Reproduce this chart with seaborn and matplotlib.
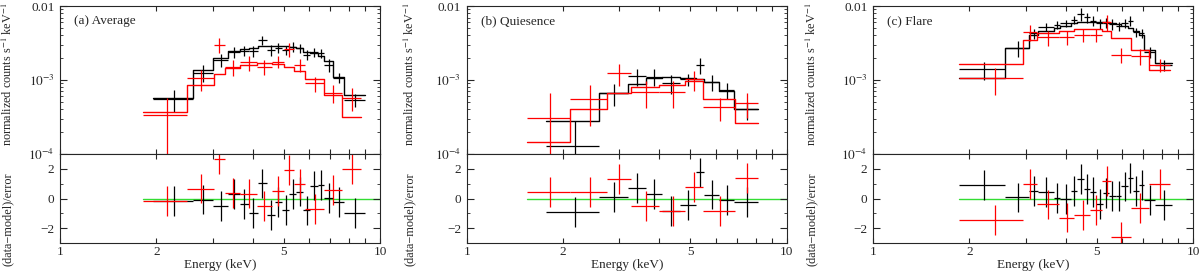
import numpy as np
import pandas as pd
import seaborn as sns
import matplotlib.pyplot as plt
from matplotlib.ticker import FixedLocator, FixedFormatter, NullFormatter, MultipleLocator

# --- DATA ---
# bin edges in keV, data, 1-sigma error, model, residual (data-model)/error

# (a) Average
a_blk_edges = [1.95, 2.60, 3.00, 3.36, 3.64, 3.89, 4.15, 4.42, 4.68, 4.95, 5.21, 5.46, 5.75, 6.06, 6.38, 6.70, 7.15, 7.72, 9.00]
a_blk_flux = [5.5e-4, 1.26e-3, 1.86e-3, 2.41e-3, 2.49e-3, 2.47e-3, 3.47e-3, 2.54e-3, 2.73e-3, 2.54e-3, 2.82e-3, 2.68e-3, 2.18e-3, 2.37e-3, 2.29e-3, 1.60e-3, 1.08e-3, 5.4e-4]
a_blk_err = [1.75e-4, 3.2e-4, 3.6e-4, 4.2e-4, 4.0e-4, 4.0e-4, 4.5e-4, 4.0e-4, 4.0e-4, 3.8e-4, 4.2e-4, 3.8e-4, 3.3e-4, 3.5e-4, 3.3e-4, 3.3e-4, 1.7e-4, 1.05e-4]
a_blk_model = [5.8e-4, 1.36e-3, 1.96e-3, 2.49e-3, 2.62e-3, 2.74e-3, 2.85e-3, 2.91e-3, 2.91e-3, 2.89e-3, 2.82e-3, 2.68e-3, 2.41e-3, 2.30e-3, 2.14e-3, 1.78e-3, 1.11e-3, 6.3e-4]
a_blk_resid = [-0.18, -0.07, -0.51, 0.31, -0.36, -0.96, 1.02, -1.09, -0.24, -0.76, 0.31, 0.47, -0.80, 0.87, 0.93, 0.02, -0.24, -0.96]

a_red_edges = [1.82, 2.50, 3.02, 3.27, 3.66, 4.12, 4.58, 5.02, 5.40, 5.83, 6.66, 7.63, 8.75]
a_red_flux = [3.4e-4, 1.05e-3, 2.97e-3, 1.51e-3, 1.73e-3, 1.51e-3, 1.77e-3, 2.62e-3, 1.60e-3, 9.0e-4, 6.75e-4, 5.8e-4]
a_red_err = [2.4e-4, 3.3e-4, 6.8e-4, 3.7e-4, 3.9e-4, 3.5e-4, 3.3e-4, 5.5e-4, 3.3e-4, 2.1e-4, 1.8e-4, 2.0e-4]
a_red_model = [3.65e-4, 8.55e-4, 1.19e-3, 1.44e-3, 1.60e-3, 1.68e-3, 1.63e-3, 1.51e-3, 1.32e-3, 1.03e-3, 6.3e-4, 3.12e-4]
a_red_resid = [-0.18, 0.67, 2.64, 0.38, 0.33, -0.51, 0.49, 1.93, 0.98, -0.69, 0.58, 2.00]

# (b) Quiesence
b_blk_edges = [1.77, 2.59, 3.19, 3.63, 4.08, 4.64, 5.20, 5.50, 6.14, 6.83, 8.14]
b_blk_flux = [1.3e-4, 6.6e-4, 1.13e-3, 1.11e-3, 9.0e-4, 1.02e-3, 1.60e-3, 9.3e-4, 7.3e-4, 4.0e-4]
b_blk_err = [1.5e-4, 2.15e-4, 2.9e-4, 2.9e-4, 2.6e-4, 2.0e-4, 4.0e-4, 2.3e-4, 1.8e-4, 1.1e-4]
b_blk_model = [2.79e-4, 6.75e-4, 8.75e-4, 1.05e-3, 1.11e-3, 1.08e-3, 1.02e-3, 9.5e-4, 7.2e-4, 4.0e-4]
b_blk_resid = [-0.91, 0.09, 0.71, 0.31, -0.84, -0.44, 1.76, 0.27, -0.11, -0.24]

b_red_edges = [1.54, 2.10, 2.74, 3.25, 4.00, 4.79, 5.47, 6.87, 8.14]
b_red_flux = [3.1e-4, 5.5e-4, 1.23e-3, 6.95e-4, 6.95e-4, 1.02e-3, 4.27e-4, 4.84e-4]
b_red_err = [3.6e-4, 3.1e-4, 4.1e-4, 2.8e-4, 2.8e-4, 3.2e-4, 1.45e-4, 1.8e-4]
b_red_model = [1.47e-4, 4.0e-4, 6.7e-4, 8.0e-4, 8.6e-4, 9.6e-4, 5.5e-4, 2.6e-4]
b_red_resid = [0.42, 0.42, 1.31, -0.51, -0.84, 0.76, -0.84, 1.38]

# (c) Flare
c_blk_edges = [1.86, 2.58, 3.08, 3.28, 3.68, 3.84, 4.16, 4.35, 4.57, 4.78, 4.98, 5.24, 5.47, 5.73, 5.97, 6.27, 6.47, 6.78, 7.05, 7.62, 8.60]
c_blk_flux = [1.39e-3, 2.68e-3, 4.28e-3, 5.25e-3, 5.53e-3, 5.83e-3, 6.47e-3, 7.8e-3, 7.03e-3, 6.33e-3, 5.83e-3, 5.95e-3, 5.71e-3, 5.37e-3, 5.83e-3, 6.33e-3, 4.42e-3, 4.28e-3, 2.41e-3, 1.60e-3]
c_blk_err = [3.8e-4, 6.5e-4, 6.7e-4, 7.0e-4, 7.0e-4, 7.0e-4, 8.0e-4, 1.6e-3, 1.1e-3, 1.0e-3, 9.0e-4, 9.0e-4, 9.0e-4, 8.0e-4, 8.0e-4, 9.0e-4, 6.0e-4, 6.0e-4, 4.0e-4, 2.6e-4]
c_blk_model = [1.05e-3, 2.73e-3, 4.06e-3, 4.64e-3, 4.99e-3, 5.42e-3, 5.83e-3, 6.08e-3, 6.08e-3, 6.08e-3, 6.08e-3, 6.08e-3, 5.95e-3, 5.70e-3, 5.40e-3, 5.00e-3, 4.64e-3, 4.06e-3, 2.54e-3, 1.71e-3]
c_blk_resid = [0.89, 0.07, 0.49, 0.44, 0.05, -0.05, 0.49, 1.31, 0.64, 0.42, -0.36, 0.38, 0.16, 0.16, 0.82, 1.38, 0.49, 0.93, -0.09, -0.42]

c_red_edges = [1.86, 2.95, 3.25, 3.80, 4.25, 4.78, 5.20, 5.55, 6.40, 7.28, 8.50]
c_red_flux = [1.05e-3, 4.5e-3, 3.77e-3, 3.77e-3, 4.06e-3, 4.06e-3, 6.14e-3, 2.18e-3, 2.11e-3, 1.60e-3]
c_red_err = [4.2e-4, 1.1e-3, 9.0e-4, 8.0e-4, 8.0e-4, 8.0e-4, 1.5e-3, 5.0e-4, 5.0e-4, 3.3e-4]
c_red_model = [1.64e-3, 3.47e-3, 4.28e-3, 4.64e-3, 4.84e-3, 4.84e-3, 4.64e-3, 3.66e-3, 2.54e-3, 1.36e-3]
c_red_resid = [-1.44, 0.98, -0.40, -1.29, -1.13, -0.78, 1.16, -2.58, -0.62, 0.98]

panel_tags = ['(a) Average', '(b) Quiesence', '(c) Flare']
panel_left = [0.050, 0.389, 0.7275]
ylabel_x = [0.0065, 0.3417, 0.6767]

# --- STYLE ---
sns.set_theme(style='ticks')
plt.rcParams['font.family'] = ['Liberation Serif', 'DejaVu Serif']
plt.rcParams['mathtext.fontset'] = 'stix'
plt.rcParams['font.size'] = 9.5
plt.rcParams['axes.linewidth'] = 0.8

RED = '#ff0000'
BLK = '#000000'
GREEN = '#33dd33'


def bin_table(edges):
    e = np.asarray(edges)
    return (e[:-1] + e[1:]) / 2, (e[1:] - e[:-1]) / 2


def style_x(ax, labels):
    ax.set_xscale('log')
    ax.set_xlim(1, 10)
    ax.xaxis.set_major_locator(FixedLocator([1, 2, 5, 10]))
    ax.xaxis.set_minor_locator(FixedLocator([3, 4, 6, 7, 8, 9]))
    if labels:
        ax.xaxis.set_major_formatter(FixedFormatter(['1', '2', '5', '10']))
    else:
        ax.xaxis.set_major_formatter(NullFormatter())
    ax.xaxis.set_minor_formatter(NullFormatter())
    ax.tick_params(axis='x', which='both', direction='in', top=True, bottom=True,
                   length=3.5, width=0.8, pad=2, labelsize=9.5)


def draw_series(ax_top, ax_bot, edges, flux, err, model, resid, color):
    cen, half = bin_table(edges)
    # model as a step histogram
    sns.lineplot(x=list(edges), y=list(model) + [model[-1]], ax=ax_top, color=color,
                 drawstyle='steps-post', estimator=None, sort=False, lw=1.0)
    ax_top.errorbar(cen, flux, xerr=half, yerr=err, fmt='none', ecolor=color, elinewidth=0.9)
    ax_bot.errorbar(cen, resid, xerr=half, yerr=1.0, fmt='none', ecolor=color, elinewidth=0.9)


fig = plt.figure(figsize=(12, 2.71), dpi=100)

all_data = [
    ((a_blk_edges, a_blk_flux, a_blk_err, a_blk_model, a_blk_resid),
     (a_red_edges, a_red_flux, a_red_err, a_red_model, a_red_resid)),
    ((b_blk_edges, b_blk_flux, b_blk_err, b_blk_model, b_blk_resid),
     (b_red_edges, b_red_flux, b_red_err, b_red_model, b_red_resid)),
    ((c_blk_edges, c_blk_flux, c_blk_err, c_blk_model, c_blk_resid),
     (c_red_edges, c_red_flux, c_red_err, c_red_model, c_red_resid)),
]

for i, (blk, red) in enumerate(all_data):
    left = panel_left[i]
    ax_top = fig.add_axes([left, 0.4317, 0.2667, 0.546])
    ax_bot = fig.add_axes([left, 0.1033, 0.2667, 0.3284])

    draw_series(ax_top, ax_bot, *blk, BLK)
    draw_series(ax_top, ax_bot, *red, RED)

    # zero line in the residual panel
    x0 = min(blk[0][0], red[0][0])
    sns.lineplot(x=[x0, 10], y=[0, 0], ax=ax_bot, color=GREEN, lw=1.0,
                 estimator=None, sort=False, zorder=0)

    ax_top.set_yscale('log')
    ax_top.set_ylim(1e-4, 1e-2)
    ax_top.yaxis.set_major_locator(FixedLocator([1e-4, 1e-3, 1e-2]))
    ax_top.yaxis.set_major_formatter(FixedFormatter(['$10^{-4}$', '$10^{-3}$', '0.01']))
    ax_top.yaxis.set_minor_formatter(NullFormatter())
    ax_top.tick_params(axis='y', which='major', direction='in', left=True, right=True,
                       length=5, width=0.8, pad=4, labelsize=9.5)
    ax_top.tick_params(axis='y', which='minor', direction='in', left=True, right=True,
                       length=2.5, width=0.6)
    style_x(ax_top, labels=False)
    ax_top.set_xlabel('')
    ax_top.set_ylabel('')
    ax_top.text(0.045, 0.9, panel_tags[i], transform=ax_top.transAxes,
                ha='left', va='center', fontsize=9.5)

    ax_bot.set_ylim(-3, 3)
    ax_bot.yaxis.set_major_locator(FixedLocator([-2, 0, 2]))
    ax_bot.yaxis.set_major_formatter(FixedFormatter(['\u22122', '0', '2']))
    ax_bot.yaxis.set_minor_locator(MultipleLocator(1))
    ax_bot.tick_params(axis='y', which='major', direction='in', left=True, right=True,
                       length=5, width=0.8, pad=4, labelsize=9.5)
    ax_bot.tick_params(axis='y', which='minor', direction='in', left=True, right=True,
                       length=2.5, width=0.6)
    style_x(ax_bot, labels=True)
    ax_bot.set_xlabel('Energy (keV)', fontsize=9.5, labelpad=1)
    ax_bot.set_ylabel('')

    # y axis titles, one for each half
    fig.text(ylabel_x[i], 0.725, 'normalized counts s$^{-1}$ keV$^{-1}$',
             rotation=90, ha='center', va='center', fontsize=8.8)
    fig.text(ylabel_x[i], 0.19, '(data\u2212model)/error',
             rotation=90, ha='center', va='center', fontsize=8.8)

fig.savefig('out.png', dpi=100)
